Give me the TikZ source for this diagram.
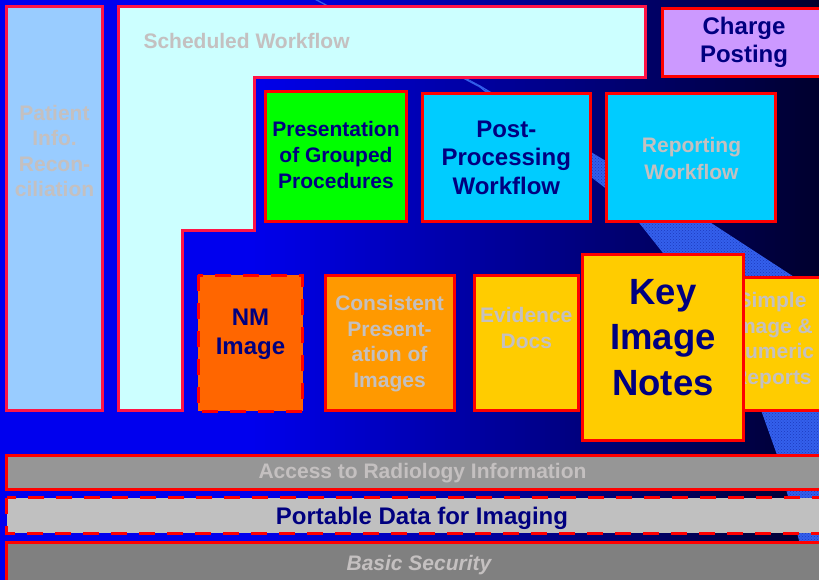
\documentclass[tikz,border=0pt]{standalone}
\usepackage{fontspec}
\setmainfont{Liberation Sans}
\usetikzlibrary{patterns}
\definecolor{bgA}{RGB}{0,0,238}
\definecolor{bgB}{RGB}{0,0,45}
\definecolor{bandfill}{RGB}{52,96,236}
\definecolor{bandspeck}{RGB}{28,58,190}
\definecolor{boxred}{RGB}{255,0,0}
\definecolor{pinkred}{RGB}{255,20,70}
\definecolor{txtgray}{RGB}{196,192,192}
\definecolor{navytxt}{RGB}{0,0,128}
\definecolor{fillPatient}{RGB}{153,204,255}
\definecolor{fillSched}{RGB}{204,255,255}
\definecolor{fillCharge}{RGB}{204,153,255}
\definecolor{fillGreen}{RGB}{0,255,0}
\definecolor{fillCyan}{RGB}{0,204,255}
\definecolor{fillNM}{RGB}{255,102,0}
\definecolor{fillOrange}{RGB}{255,153,0}
\definecolor{fillGold}{RGB}{255,204,0}
\definecolor{fillAccess}{RGB}{150,150,150}
\definecolor{fillPDI}{RGB}{192,192,192}
\definecolor{fillBasic}{RGB}{128,128,128}
\begin{document}
\begin{tikzpicture}[x=1pt,y=-1pt,
  box/.style={draw=boxred, line width=3pt, line join=miter},
  pinkbox/.style={draw=pinkred, line width=3pt, line join=miter},
  dashbox/.style={draw=boxred, line width=3pt, dash pattern=on 16pt off 12pt},
  lbl/.style={inner sep=0pt, align=center},
  grey/.style={text=txtgray},
  navy/.style={text=navytxt},
  fa/.style={font=\bfseries\fontsize{21}{#1}\selectfont},
  fb/.style={font=\bfseries\fontsize{24}{#1}\selectfont}]
\useasboundingbox (0,0) rectangle (819,580);
\clip (0,0) rectangle (819,580);
% background gradient
\foreach \i in {0,...,163}{
  \pgfmathsetmacro{\p}{max(0,min(100,(5*\i+2.5-250)/569*100))}
  \fill[bgB!\p!bgA] (5*\i,0) rectangle (5*\i+5.4,580);
}
% decorative band
\path[fill=bandfill, draw=bandfill, line width=1.2pt,
      postaction={pattern=crosshatch dots, pattern color=bandspeck}]
  (309,-4) -- (480,86) -- (598,157) -- (710,223) -- (793,277) -- (840,307)
  -- (840,590) -- (812,590) -- (799,538) -- (788,494) -- (777,453) -- (762,411)
  -- (663,252) -- (640,223) -- (605,187) -- (592,177) -- (480,87) -- cycle;
% Patient Info Reconciliation
\filldraw[pinkbox, fill=fillPatient] (6.7,6.5) rectangle (102.2,410.8);
\node[lbl, grey, fa=25.3] (patient) at (54.5,151) {Patient\\Info.\\Recon-\\ciliation};
% Scheduled Workflow
\filldraw[pinkbox, fill=fillSched] (118.7,6.5) -- (645.5,6.5) -- (645.5,77.5) -- (254.7,77.5)
  -- (254.7,230) -- (182.7,230) -- (182.7,410.8) -- (118.7,410.8) -- cycle;
\node[lbl, grey, fa=25, anchor=base west] (sched) at (143.3,48.3) {Scheduled Workflow};
% Charge Posting
\filldraw[box, fill=fillCharge] (662.8,8.2) rectangle (830,76.8);
\node[lbl, navy, fb=27.5] (charge) at (744,42.2) {Charge\\Posting};
% Presentation of Grouped Procedures
\filldraw[box, fill=fillGreen] (265.5,91.5) rectangle (406.5,221.5);
\node[lbl, navy, fa=26] (pgp) at (336,154.7) {Presentation\\of Grouped\\Procedures};
% Post-Processing Workflow
\filldraw[box, fill=fillCyan] (422.5,93.5) rectangle (590.2,221.5);
\node[lbl, navy, fb=28.2] (ppw) at (506.3,157.7) {Post-\\Processing\\Workflow};
% Reporting Workflow
\filldraw[box, fill=fillCyan] (606.5,93.5) rectangle (775.8,221.5);
\node[lbl, grey, fa=26.7] (rw) at (691.5,158.8) {Reporting\\Workflow};
% NM Image
\fill[fillNM] (198.3,275) rectangle (302.7,411);
\draw[dashbox] (198.3,275) rectangle (302.7,411);
\node[lbl, navy, fb=29.5] (nm) at (250.5,334.3) {NM\\Image};
% Consistent Presentation of Images
\filldraw[box, fill=fillOrange] (325.7,275.5) rectangle (454.2,410.8);
\node[lbl, grey, fa=25.7] (cpi) at (389.5,343.6) {Consistent\\Present-\\ation of\\Images};
% Evidence Docs
\filldraw[box, fill=fillGold] (474.2,275.5) rectangle (578.2,410.8);
\node[lbl, grey, fa=26] (ed) at (526.3,328.3) {Evidence\\Docs};
% Simple Image & Numeric Reports
\filldraw[box, fill=fillGold] (728,277.5) rectangle (830,410.8);
\node[lbl, grey, fa=25.7] (sinr) at (772,340.6) {Simple\\Image \&\\Numeric\\Reports};
% Key Image Notes
\filldraw[box, fill=fillGold] (582.8,254.8) rectangle (743.2,440.8);
\node[lbl, navy, font=\bfseries\fontsize{36.5}{45.7}\selectfont] (kin) at (663,337.5) {Key\\Image\\Notes};
% Access to Radiology Information
\filldraw[box, fill=fillAccess] (6.5,455.3) rectangle (830,489.7);
\node[lbl, grey, fa=25, anchor=base] (rad) at (422.5,478.3) {Access to Radiology Information};
% Portable Data for Imaging
\fill[fillPDI] (6.5,497.8) rectangle (830,533.2);
\draw[dashbox] (6.5,497.8) rectangle (830,533.2);
\node[lbl, navy, fb=28, anchor=base] (pdi) at (422,524) {Portable Data for Imaging};
% Basic Security
\filldraw[box, fill=fillBasic] (6.5,542.5) rectangle (830,600);
\node[lbl, grey, font=\bfseries\itshape\fontsize{21}{25}\selectfont, anchor=base] (bs) at (419,570) {Basic Security};
\end{tikzpicture}
\end{document}
